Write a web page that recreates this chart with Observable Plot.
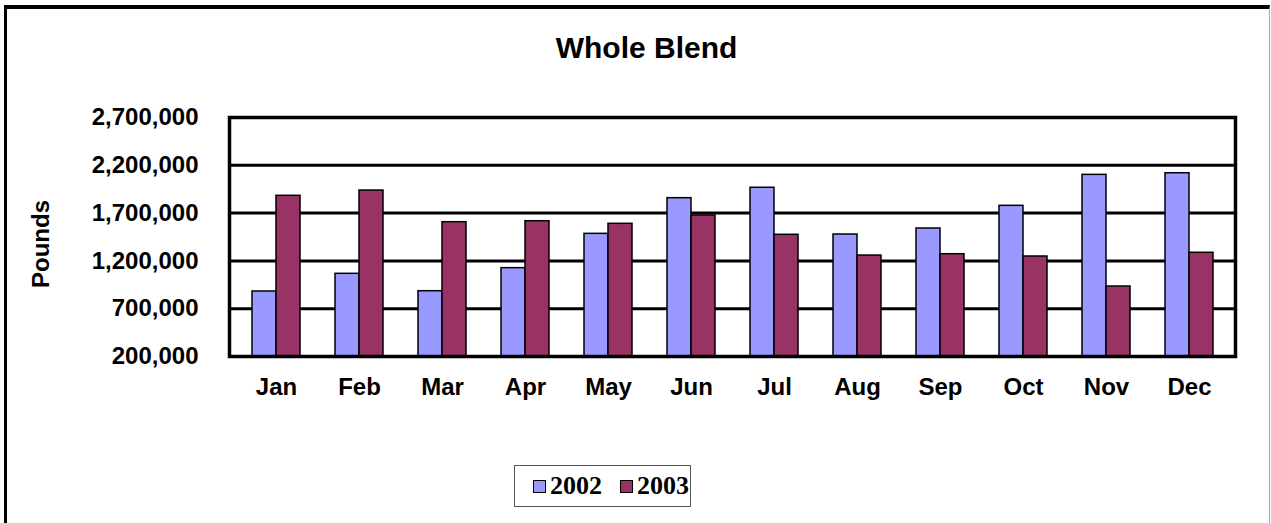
<!DOCTYPE html>
<html>
<head>
<meta charset="utf-8">
<script src="https://cdn.jsdelivr.net/npm/d3@7"></script>
<script src="https://cdn.jsdelivr.net/npm/@observablehq/plot@0.6"></script>
<style>
  html, body { margin: 0; padding: 0; background: #fff; }
  #wrap { position: relative; width: 1271px; height: 523px; overflow: hidden; font-family: "Liberation Sans", Arial, sans-serif; }
  #border { position: absolute; left: 4px; top: 5px; width: 1262px; height: 560px; border-top: 4px solid #000; border-left: 3px solid #000; border-right: 1px solid #aaa; }
  #chart { position: absolute; left: 0; top: 0; }
  #title { position: absolute; left: 0; width: 1293px; top: 31px; text-align: center; font-weight: bold; font-size: 30px; line-height: 34px; }
  #ylab { position: absolute; left: 41px; top: 244px; transform: translate(-50%, -50%) rotate(-90deg); font-weight: bold; font-size: 24px; white-space: nowrap; }
  #legend { position: absolute; left: 514px; top: 465px; width: 177px; height: 42px; border: 1px solid #555; box-sizing: border-box; font-family: "Liberation Serif", "Times New Roman", serif; font-weight: bold; font-size: 26px; display: flex; align-items: center; padding-left: 18px; }
  .sw { display: inline-block; width: 11px; height: 11px; border: 1px solid #000; margin-right: 4px; }
  .item { display: inline-flex; align-items: center; margin-right: 18px; }
</style>
</head>
<body>
<div id="wrap">
  <div id="border"></div>
  <div id="chart"></div>
  <div id="title">Whole Blend</div>
  <div id="ylab">Pounds</div>
  <div id="legend"></div>
</div>
<script>
const months = ["Jan","Feb","Mar","Apr","May","Jun","Jul","Aug","Sep","Oct","Nov","Dec"];
const series = ["2002", "2003"];
const values2002 = [880000, 1065000, 883000, 1124000, 1483000, 1856000, 1965000, 1476000, 1539000, 1776000, 2100000, 2117000];
const values2003 = [1881000, 1936000, 1605000, 1615000, 1588000, 1675000, 1473000, 1256000, 1270000, 1246000, 932000, 1285000];
const yTicks = [200000, 700000, 1200000, 1700000, 2200000, 2700000];
const colors = ["#9999FF", "#993366"];

const yBase = yTicks[0];
const data = [];
months.forEach((m, i) => {
  data.push({month: m, year: series[0], value: values2002[i]});
  data.push({month: m, year: series[1], value: values2003[i]});
});

const chart = Plot.plot({
  width: 1271,
  height: 410,
  marginLeft: 229,
  marginRight: 36,
  marginTop: 117,
  marginBottom: 54,
  style: {fontFamily: "'Liberation Sans', Arial, sans-serif", background: "transparent"},
  x: {domain: months, paddingInner: 0.7137, paddingOuter: 0.35685, label: null},
  y: {domain: [yTicks[0], yTicks[yTicks.length - 1]], label: null},
  marks: [
    Plot.ruleY(yTicks, {stroke: "#000", strokeWidth: 3}),
    Plot.barY(data.filter(d => d.year === series[0]), {x: "month", y1: yBase, y2: "value", fill: colors[0], stroke: "#000", strokeWidth: 1.5, dx: -12}),
    Plot.barY(data.filter(d => d.year === series[1]), {x: "month", y1: yBase, y2: "value", fill: colors[1], stroke: "#000", strokeWidth: 1.5, dx: 12}),
    Plot.frame({stroke: "#000", strokeWidth: 3.5}),
    Plot.axisX({tickSize: 0, tickPadding: 21, fontSize: 24, fontWeight: "bold", fill: "#000", label: null}),
    Plot.axisY({ticks: yTicks, tickFormat: d3.format(","), tickSize: 0, tickPadding: 31, fontSize: 24, fontWeight: "bold", fill: "#000", label: null})
  ]
});
document.getElementById("chart").appendChild(chart);

const legend = document.getElementById("legend");
series.forEach((s, i) => {
  const item = document.createElement("span");
  item.className = "item";
  const sw = document.createElement("span");
  sw.className = "sw";
  sw.style.background = colors[i];
  item.appendChild(sw);
  item.appendChild(document.createTextNode(s));
  legend.appendChild(item);
});
</script>
</body>
</html>
